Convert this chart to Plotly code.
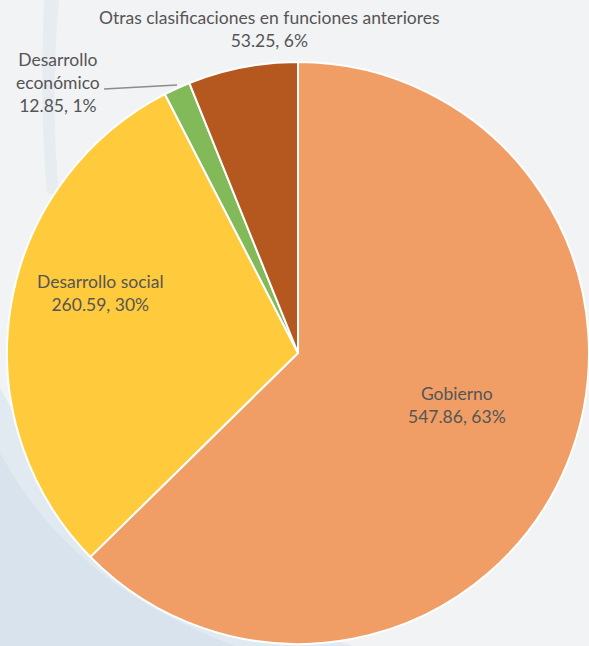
import plotly.graph_objects as go

labels = ["Gobierno", "Desarrollo social", "Desarrollo económico", "Otras clasificaciones en funciones anteriores"]
values = [547.86, 260.59, 12.85, 53.25]
pct_text = ["63%", "30%", "1%", "6%"]
colors = ["#F09E66", "#FFCB3C", "#82BA5A", "#B5581F"]

W, H = 589, 646
fig = go.Figure()

# subtle background swooshes (bottom-left bluish tint)
fig.add_shape(type="path", xref="paper", yref="paper",
              path="M 0 0.40 C 0.10 0.22, 0.30 0.08, 0.60 0 L 0 0 Z",
              fillcolor="rgba(214,226,238,0.55)", line_width=0, layer="below")
fig.add_shape(type="path", xref="paper", yref="paper",
              path="M 0 0.30 C 0.08 0.16, 0.22 0.06, 0.40 0 L 0 0 Z",
              fillcolor="rgba(205,220,234,0.5)", line_width=0, layer="below")
fig.add_shape(type="path", xref="paper", yref="paper",
              path="M 0.075 1 L 0.10 1 C 0.09 0.9, 0.09 0.8, 0.10 0.7 L 0.08 0.7 C 0.07 0.8, 0.07 0.9, 0.075 1 Z",
              fillcolor="rgba(218,228,238,0.45)", line_width=0, layer="below")

fig.add_trace(go.Pie(
    labels=labels, values=values, sort=False, direction="clockwise", rotation=0,
    marker=dict(colors=colors, line=dict(color="white", width=2)),
    textinfo="none", hoverinfo="label+value+percent", showlegend=False,
    domain=dict(x=[7 / W, 1.0], y=[2 / H, 584 / H]),
))

font = dict(family="Lato, Open Sans, sans-serif", size=17.5, color="#555555")
anns = [
    (457, 405, f"{labels[0]}<br>{values[0]:.2f}, {pct_text[0]}"),
    (100, 293, f"{labels[1]}<br>{values[1]:.2f}, {pct_text[1]}"),
    (58, 82, f"Desarrollo<br>económico<br>{values[2]:.2f}, {pct_text[2]}"),
    (269, 29, f"{labels[3]}<br>{values[3]:.2f}, {pct_text[3]}"),
]
for x, y, t in anns:
    fig.add_annotation(x=x / W, y=1 - y / H, xref="paper", yref="paper", text=t,
                       xanchor="center", yanchor="middle",
                       showarrow=False, font=font, align="center")

fig.add_shape(type="line", xref="paper", yref="paper",
              x0=104 / W, y0=1 - 89 / H, x1=177 / W, y1=1 - 85 / H,
              line=dict(color="#8C8C8C", width=1.5))

fig.update_layout(width=W, height=H, margin=dict(l=0, r=0, t=0, b=0),
                  paper_bgcolor="#F2F3F4", plot_bgcolor="#F2F3F4")
fig.write_html("out.html", config={"displayModeBar": False},
               post_script="document.body.style.margin='0';document.body.style.overflow='hidden';")
